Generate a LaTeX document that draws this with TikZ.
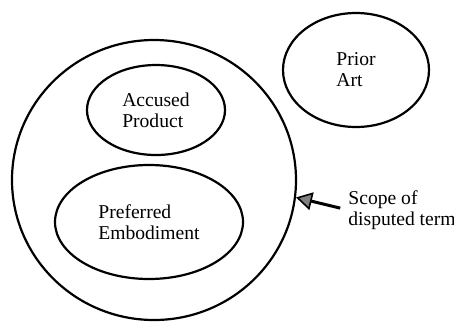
\documentclass[tikz,border=0pt]{standalone}
\usepackage{fontspec}
\setmainfont{Liberation Serif}
\usetikzlibrary{arrows.meta,shapes.geometric}

\begin{document}
\begin{tikzpicture}[x=0.5pt,y=-0.5pt,
    region/.style={draw,ellipse,line width=1.1pt,inner sep=0pt,align=left,
      font=\fontsize{9.8}{10.5}\selectfont},
    note/.style={align=left,inner sep=0pt,font=\fontsize{9.8}{10.5}\selectfont},
    pointer/.style={line width=1.5pt,
      -{Triangle[length=8pt,width=9pt,fill=black!50,line width=0.8pt]}}]
  \useasboundingbox (0,0) rectangle (454,322);
  % outer scope and the regions inside it
  \node[region,minimum width=142pt,minimum height=140pt] (scope) at (154,180) {};
  \node[region,minimum width=69pt,minimum height=45pt] (accused) at (156,110)
    {Accused\\Product};
  \node[region,minimum width=94pt,minimum height=57pt] (preferred) at (149,222)
    {Preferred\\Embodiment};
  % prior art, outside the scope
  \node[region,minimum width=73pt,minimum height=57pt] (prior) at (356,70)
    {Prior\\Art};
  % label and arrow
  \node[note,anchor=west] (scopelabel) at (348,210) {Scope of\\disputed term};
  \draw[pointer,shorten <=4pt] (scopelabel.west) -- (scope.-7);
\end{tikzpicture}
\end{document}
